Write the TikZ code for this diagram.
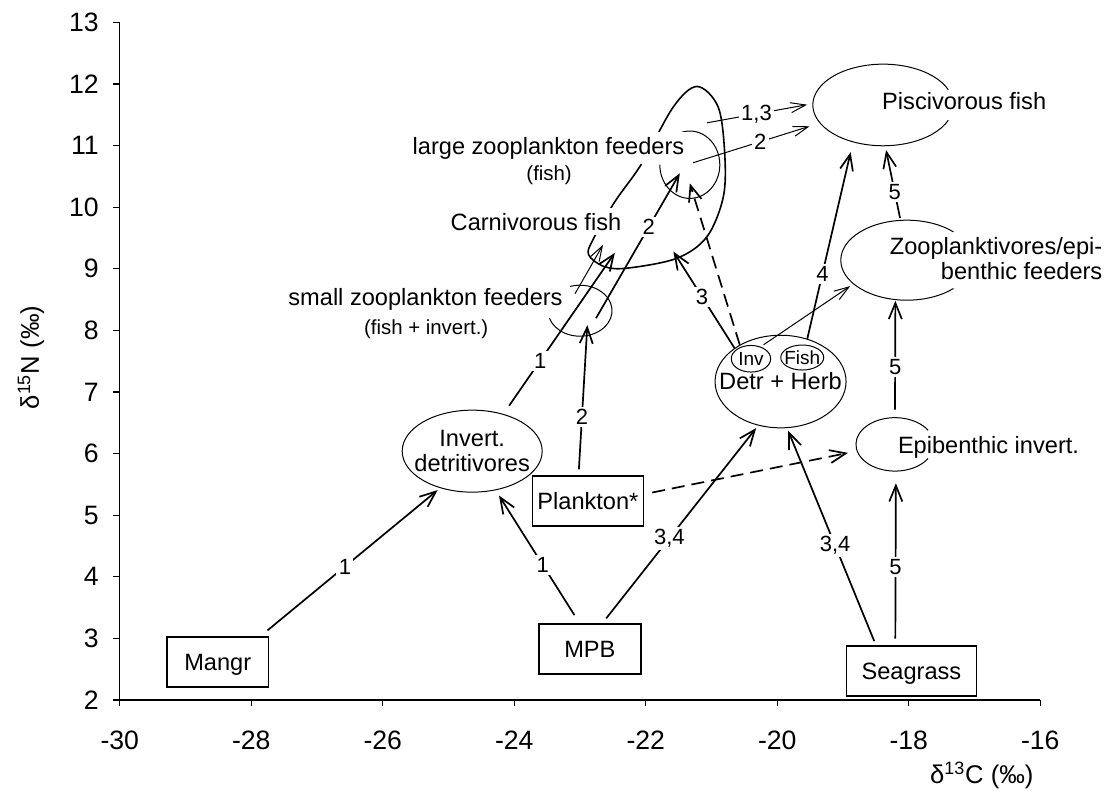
\documentclass[tikz,border=0pt]{standalone}
\usepackage{fontspec}
\setmainfont{Liberation Sans}
\usetikzlibrary{arrows.meta,shapes.geometric}

\tikzset{
  src/.style={draw, line width=0.75pt, inner sep=0pt, minimum height=25pt, text height=8.5pt, text depth=0pt, font=\fontsize{11.8}{12.5}\selectfont},
  oval/.style={ellipse, draw, line width=0.5pt, inner sep=0pt, align=center, font=\fontsize{11.8}{12.5}\selectfont},
  hid/.style={ellipse, inner sep=0pt},
  txt/.style={inner sep=0pt, font=\fontsize{11.8}{12.5}\selectfont},
  sub/.style={inner sep=0pt, font=\fontsize{10.2}{12}\selectfont},
  arr/.style={-{Straight Barb[length=8pt,width=6.5pt]}, line width=0.85pt},
  thinarr/.style={-{Straight Barb[length=7.5pt,width=5pt]}, line width=0.5pt},
  dsh/.style={dash pattern=on 6.5pt off 3.5pt},
  lbl/.style={fill=white, inner sep=1.2pt, font=\fontsize{11}{13}\selectfont},
  axis/.style={line width=0.65pt},
  rim/.style={line width=0.5pt}
}

\begin{document}
\begin{tikzpicture}[x=32.875pt, y=30.8pt]
    \useasboundingbox (-31.822,0.474) rectangle (-14.879,13.364);

    \draw[axis] (-30,13) -- (-30,2) -- (-16,2);
    \foreach \y in {2,...,13}
        \draw[axis] (-30,\y) -- ++(-3.2pt,0) node[anchor=east, xshift=-7pt, inner sep=0pt, font=\fontsize{13.3}{15}\selectfont] (yt\y) {\y};
    \foreach \x in {-30,-28,...,-16}
        \draw[axis] (\x,2) -- ++(0,-3pt) node[anchor=north, yshift=-12pt, inner sep=0pt, font=\fontsize{13.3}{15}\selectfont] (xt\x) {\x};
    \node[rotate=90, inner sep=0pt, font=\fontsize{12.8}{15}\selectfont] (ytitle) at (-31.35,7.56) {δ\textsuperscript{15}N (‰)};
    \node[inner sep=0pt, font=\fontsize{12.8}{15}\selectfont] (xtitle) at (-16.89,0.78) {δ\textsuperscript{13}C (‰)};

    \draw[line width=0.8pt] plot[smooth cycle, tension=0.55] coordinates {(-22.47,10.09) (-22.80,9.48) (-22.87,9.23) (-22.64,9.04) (-22.29,9.01) (-21.53,9.17) (-21.07,9.52) (-20.82,10.17) (-20.80,10.88) (-20.90,11.63) (-21.22,11.96) (-21.58,11.63) (-22.06,10.71)};

    \node[src, minimum width=50.9pt] (mangr) at (-28.51,2.62) {Mangr};
    \node[src, minimum width=51pt] (mpb) at (-22.85,2.83) {MPB};
    \node[src, minimum width=55.5pt] (plank) at (-22.88,5.23) {Plankton*};
    \node[src, minimum width=65pt] (sea) at (-17.96,2.47) {Seagrass};

    \node[oval, inner xsep=-5pt, minimum width=70pt, minimum height=41pt] (invdet) at (-24.64,6.04) {Invert.\\detritivores};
    \node[oval, inner xsep=-8pt, minimum width=65.5pt, minimum height=46.3pt] (detr) at (-19.95,7.17) {Detr + Herb};
    \node[oval, minimum width=19.7pt, minimum height=13.3pt, font=\fontsize{9.5}{11}\selectfont] (inv) at (-20.40,7.54) {Inv};
    \node[oval, inner xsep=-2pt, minimum width=21.5pt, minimum height=12.5pt, font=\fontsize{9.5}{11}\selectfont] (fish) at (-19.62,7.56) {Fish};

    \node[hid, minimum width=39pt, minimum height=26.7pt] (epi) at (-18.21,6.15) {};
    \node[hid, minimum width=66pt, minimum height=40pt] (zoopl) at (-18.03,9.14) {};
    \node[hid, minimum width=70.3pt, minimum height=40.8pt] (pisc) at (-18.39,11.66) {};
    \node[hid, minimum width=30pt, minimum height=33.7pt] (lzoo) at (-21.33,10.69) {};
    \node[hid, minimum width=32pt, minimum height=25.5pt] (szoo) at (-23.00,8.32) {};
    \draw[rim] (epi.center) ++(32:19.5pt and 13.35pt) arc[start angle=32, end angle=328, x radius=19.5pt, y radius=13.35pt];
    \draw[rim] (zoopl.center) ++(45:33pt and 20pt) arc[start angle=45, end angle=315, x radius=33pt, y radius=20pt];
    \draw[rim] (pisc.center) ++(22:35.15pt and 20.4pt) arc[start angle=22, end angle=338, x radius=35.15pt, y radius=20.4pt];
    \draw[rim] (lzoo.center) ++(180:15pt and 16.85pt) arc[start angle=180, end angle=465, x radius=15pt, y radius=16.85pt];
    \draw[rim] (szoo.center) ++(-163:16pt and 12.75pt) arc[start angle=-163, end angle=108, x radius=16pt, y radius=12.75pt];

    \node[txt, anchor=base west] (pisctxt) at (-18.41,11.59) {Piscivorous fish};
    \node[txt, anchor=east, align=right] (zoopltxt) at (-15.05,9.17) {Zooplanktivores/epi-\\benthic feeders};
    \node[txt, anchor=base west] (epitxt) at (-18.17,6.005) {Epibenthic invert.};
    \node[txt, fill=white, inner sep=2.5pt, anchor=base] (lzootxt) at (-23.48,10.86) {large zooplankton feeders};
    \node[sub, anchor=base] (lzoosub) at (-23.47,10.43) {(fish)};
    \node[txt, fill=white, inner sep=2.5pt, anchor=base] (carntxt) at (-23.67,9.63) {Carnivorous fish};
    \node[txt, anchor=base] (szootxt) at (-25.35,8.40) {small zooplankton feeders};
    \node[sub, anchor=base] (szoosub) at (-25.34,7.94) {(fish + invert.)};

    \coordinate (carn1) at (-22.47,9.26);
    \coordinate (carn2) at (-22.65,9.39);
    \coordinate (carn3) at (-21.58,9.28);
    \coordinate (carn4) at (-21.07,11.37);

    \draw[arr, shorten <=4.5pt, shorten >=1.6pt] (mangr.31) -- node[lbl, pos=0.47] (l1) {1} (invdet.229);
    \draw[arr, shorten <=4.7pt, shorten >=3.1pt] (mpb.112) -- node[lbl, pos=0.44] (l2) {1} (invdet.301);
    \draw[arr, shorten <=3pt, shorten >=1.6pt] (mpb.64) -- node[lbl, pos=0.43] (l3) {3,4} (detr.243);
    \draw[arr, shorten <=2.3pt, shorten >=1.4pt] (sea.144) -- node[lbl, pos=0.46] (l4) {3,4} (detr.278);
    \draw[arr, shorten <=3.3pt, shorten >=5.9pt] (sea.122) -- node[lbl, pos=0.45] (l5) {5} (epi.272);
    \draw[arr, shorten <=3.8pt, shorten >=0.4pt] (epi.90) -- node[lbl, pos=0.43] (l6) {5} (zoopl.254);
    \draw[arr, shorten <=1pt, shorten >=2pt] (zoopl.99) -- node[lbl, pos=0.38] (l7) {5} (pisc.273);
    \draw[arr, shorten >=5.1pt] (detr.58) -- node[lbl, pos=0.33] (l8) {4} (pisc.231);
    \draw[thinarr, shorten <=1.7pt, shorten >=1.8pt] (inv.51) -- (zoopl.204);
    \draw[arr] (detr.144) -- node[lbl, pos=0.53] (l9) {3} (carn3);
    \draw[arr, dsh] (detr.138) -- ([yshift=-9.3pt]lzoo.center);
    \draw[arr, shorten <=3pt] (plank.110) -- node[lbl, pos=0.39] (l10) {2} ([shift={(3.65pt,-7.25pt)}]szoo.center);
    \draw[arr, dsh, shorten <=4.1pt, shorten >=4.5pt] (plank.7) -- (epi.190);
    \draw[arr, shorten <=5pt] (invdet.50) -- node[lbl, pos=0.33] (l11) {1} (carn1);
    \draw[arr] ([shift={(8pt,-3.75pt)}]szoo.center) -- node[lbl, pos=0.63] (l12) {2} ([shift={(-5pt,-4.3pt)}]lzoo.center);
    \draw[thinarr] ([shift={(-2.5pt,8.5pt)}]szoo.center) -- (carn2);
    \draw[thinarr, shorten >=5.3pt] ([shift={(1.65pt,1pt)}]lzoo.center) -- node[lbl, pos=0.53] (l13) {2} (pisc.196);
    \draw[thinarr, shorten >=2.7pt] (carn4) -- node[lbl, pos=0.47] (l14) {1,3} (pisc.179);
\end{tikzpicture}
\end{document}
